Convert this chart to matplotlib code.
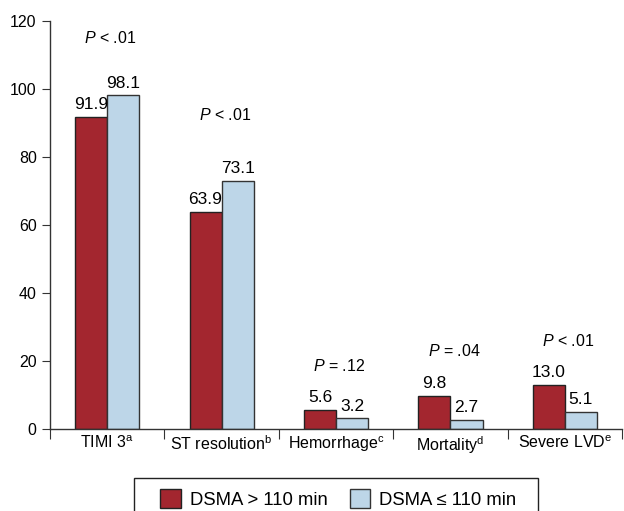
import matplotlib.pyplot as plt
from matplotlib.patches import Rectangle
import numpy as np

plt.rcParams['font.family'] = ['Liberation Sans', 'DejaVu Sans']
plt.rcParams['mathtext.fontset'] = 'custom'
plt.rcParams['mathtext.rm'] = 'Liberation Sans'
plt.rcParams['mathtext.it'] = 'Liberation Sans:italic'

categories = ['TIMI 3$^{\\mathrm{a}}$', 'ST resolution$^{\\mathrm{b}}$',
              'Hemorrhage$^{\\mathrm{c}}$', 'Mortality$^{\\mathrm{d}}$',
              'Severe LVD$^{\\mathrm{e}}$']
long_dsma = [91.9, 63.9, 5.6, 9.8, 13.0]
short_dsma = [98.1, 73.1, 3.2, 2.7, 5.1]
p_labels = ['< .01', '< .01', '= .12', '= .04', '< .01']
p_heights = [115, 92.5, 18.5, 23, 26]

red = '#A3262F'
blue = '#BDD6E8'
axis_grey = '#333333'

fig = plt.figure(figsize=(6.24, 5.11), dpi=100)
ax = fig.add_axes([0.080, 0.160, 0.917, 0.799])

x = np.arange(len(categories))
w = 0.28
b1 = ax.bar(x - w / 2, long_dsma, w, color=red, edgecolor='#222222',
            linewidth=1.0, label='DSMA > 110 min')
b2 = ax.bar(x + w / 2, short_dsma, w, color=blue, edgecolor='#333333',
            linewidth=1.0, label='DSMA \u2264 110 min')

for bars, vals in [(b1, long_dsma), (b2, short_dsma)]:
    for r, v in zip(bars, vals):
        ax.text(r.get_x() + r.get_width() / 2, v + 1.4, f'{v:.1f}',
                ha='center', va='bottom', fontsize=12.5)

for xi, lab, h in zip(x, p_labels, p_heights):
    ax.text(xi + 0.03, h, f'$\\it{{P}}$ {lab}', ha='center', va='center',
            fontsize=11.5)

ax.set_xlim(-0.5, len(categories) - 0.5)
ax.set_ylim(0, 120)
ax.set_yticks(range(0, 121, 20))

# boundary ticks between groups, labels centred under groups
ax.set_xticks(np.arange(-0.5, len(categories)), minor=False)
ax.set_xticklabels([])
ax.set_xticks(x, minor=True)
ax.set_xticklabels(categories, minor=True, fontsize=11.5)
ax.tick_params(axis='x', which='major', length=7, color=axis_grey)
ax.tick_params(axis='x', which='minor', length=0, pad=4)
ax.tick_params(axis='y', length=6, color=axis_grey, labelsize=11.5)

for s in ['top', 'right']:
    ax.spines[s].set_visible(False)
for s in ['left', 'bottom']:
    ax.spines[s].set_color(axis_grey)
    ax.spines[s].set_linewidth(1.0)

leg = fig.legend(handles=[b1, b2], loc='upper center',
                 bbox_to_anchor=(0.5425, 0.072), ncol=2, fontsize=13.3,
                 frameon=False, handlelength=1.1, handleheight=1.2,
                 handletextpad=0.5, columnspacing=1.2, borderpad=0.3)

# legend frame, open at the bottom edge like the reference
fig.patches.append(Rectangle((134 / 624, -0.05), 404 / 624, 0.05 + 33 / 511,
                             transform=fig.transFigure, fill=False,
                             edgecolor='#222222', linewidth=1.0))

fig.savefig('out.png', dpi=100)
